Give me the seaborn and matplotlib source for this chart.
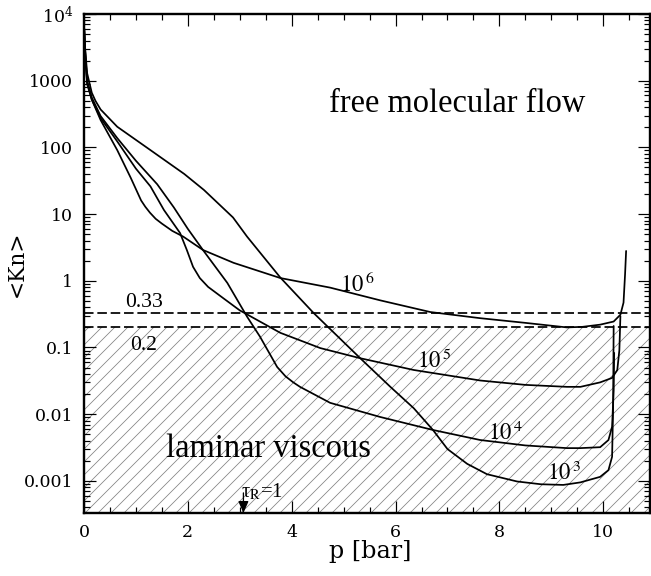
import matplotlib
matplotlib.use("Agg")
import numpy as np
import pandas as pd
import matplotlib.pyplot as plt
import seaborn as sns
from matplotlib.ticker import FixedLocator, MultipleLocator, LogLocator, NullFormatter

# ---------------- data ----------------
# pressure p [bar] and mean Knudsen number <Kn> for each curve
p_1e6 = [0, 0.02, 0.06, 0.15, 0.32, 0.64, 0.9, 1.1, 1.18, 1.27, 1.38, 1.5, 1.7, 1.91, 2.29,
         2.88, 3.78, 4.74, 5.7, 6.67, 7.63, 8.5, 9.3, 9.6, 9.94, 10.2, 10.33, 10.39, 10.42, 10.44]
kn_1e6 = [7000, 2500, 890, 520, 257, 91, 35, 16, 12.9, 10.5, 8.5, 7.2, 5.6, 4.6, 2.9,
          1.86, 1.10, 0.79, 0.51, 0.34, 0.275, 0.234, 0.20, 0.204, 0.22, 0.245, 0.31,
          0.47, 1.26, 2.8]

p_1e5 = [0, 0.02, 0.06, 0.15, 0.32, 0.64, 1.0, 1.28, 1.54, 1.85, 1.98, 2.1, 2.23, 2.39,
         2.68, 3.0, 3.78, 4.55, 5.32, 6.35, 7.63, 8.5, 9.3, 9.56, 9.94, 10.17, 10.27, 10.31, 10.33]
kn_1e5 = [7000, 2800, 950, 520, 275, 123, 48, 26, 11.5, 5.2, 2.9, 1.62, 1.10, 0.81,
          0.55, 0.36, 0.166, 0.098, 0.069, 0.046, 0.032, 0.0275, 0.0257, 0.0257, 0.030,
          0.035, 0.046, 0.091, 0.295]

p_1e4 = [0, 0.02, 0.06, 0.15, 0.32, 0.64, 1.0, 1.41, 1.73, 2.0, 2.29, 2.76, 3.14, 3.39,
         3.72, 3.88, 4.03, 4.16, 4.74, 5.7, 6.72, 7.63, 8.5, 9.3, 9.56, 9.94, 10.1, 10.17,
         10.2, 10.21]
kn_1e4 = [7000, 3000, 1000, 560, 295, 138, 63, 28, 12.6, 6.0, 2.9, 0.93, 0.29, 0.145,
          0.051, 0.037, 0.030, 0.0257, 0.0148, 0.0091, 0.0058, 0.0041, 0.0034, 0.0031,
          0.0031, 0.0032, 0.0041, 0.0065, 0.023, 0.083]

p_1e3 = [0, 0.02, 0.06, 0.15, 0.22, 0.32, 0.64, 1.28, 1.93, 2.31, 2.87, 3.14, 3.78, 4.42,
         5.32, 5.9, 6.35, 6.72, 7.0, 7.38, 7.76, 8.34, 8.8, 9.23, 9.56, 9.94, 10.1, 10.17,
         10.19, 10.2]
kn_1e3 = [7000, 3200, 1300, 660, 500, 370, 204, 91, 40, 23, 8.9, 4.6, 1.12, 0.33,
          0.069, 0.0257, 0.0123, 0.0058, 0.0030, 0.0018, 0.00126, 0.00098, 0.00089,
          0.00087, 0.00095, 0.00115, 0.00145, 0.0023, 0.0129, 0.21]

curve_names = ["1e6", "1e5", "1e4", "1e3"]
curve_labels = [r"$10^{\,6}$", r"$10^{\,5}$", r"$10^{\,4}$", r"$10^{\,3}$"]
label_pos_p = [4.93, 6.42, 7.78, 8.92]
label_pos_kn = [0.68, 0.049, 0.0041, 0.00102]

kn_levels = [0.33, 0.2]
kn_level_labels = ["0.33", "0.2"]
kn_level_text_p = [1.16, 1.14]
kn_level_text_kn = [0.41, 0.091]

ytick_vals = [1e-3, 1e-2, 1e-1, 1, 10, 100, 1000, 1e4]
ytick_labels = ["0.001", "0.01", "0.1", "1", "10", "100", "1000", r"$10^4$"]
xtick_vals = [0, 2, 4, 6, 8, 10]
xtick_labels = ["0", "2", "4", "6", "8", "10"]

tau_p = 3.07
x_lim = (0, 10.9)
y_lim = (3.3e-4, 1e4)

# ---------------- styling ----------------
sns.set_theme(style="ticks")
plt.rcParams["font.family"] = ["DejaVu Serif"]
plt.rcParams["text.color"] = "black"
plt.rcParams["axes.labelcolor"] = "black"
plt.rcParams["xtick.color"] = "black"
plt.rcParams["ytick.color"] = "black"
plt.rcParams["hatch.color"] = "0.5"
plt.rcParams["hatch.linewidth"] = 0.7
plt.rcParams["mathtext.fontset"] = "stix"

DPI = 78
fig = plt.figure(figsize=(651 / DPI, 576 / DPI), dpi=DPI)
fig.patch.set_facecolor("white")
ax = fig.add_axes([84 / 651, 63 / 576, 566 / 651, 499 / 576])
ax.set_facecolor("white")

frames = []
for name, p, kn in zip(curve_names,
                       [p_1e6, p_1e5, p_1e4, p_1e3],
                       [kn_1e6, kn_1e5, kn_1e4, kn_1e3]):
    frames.append(pd.DataFrame({"p": p, "kn": kn, "curve": name}))
df = pd.concat(frames, ignore_index=True)

ax.set_yscale("log")
ax.set_xlim(*x_lim)
ax.set_ylim(*y_lim)

# hatched laminar viscous region
ax.axhspan(y_lim[0], kn_levels[1], facecolor="none", edgecolor="0.5",
           hatch="//", linewidth=0, zorder=0)

sns.lineplot(data=df, x="p", y="kn", hue="curve", units="curve", estimator=None,
             sort=False, palette=["black"] * 4, linewidth=1.6, legend=False, ax=ax,
             zorder=3)

for lvl in kn_levels:
    ax.axhline(lvl, color="black", lw=1.6, ls=(0, (5.5, 2.2)), zorder=2)

# text annotations
serif = "Liberation Serif"
ax.text(7.19, 340, "free molecular flow", family=serif, fontsize=30,
        ha="center", va="baseline", color="black")
ax.text(3.55, 0.0023, "laminar viscous", family=serif, fontsize=30,
        ha="center", va="baseline", color="black")
for t, xp, yk in zip(kn_level_labels, kn_level_text_p, kn_level_text_kn):
    ax.text(xp, yk, t, family=serif, fontsize=20, ha="center", va="baseline",
            color="black")
for t, xp, yk in zip(curve_labels, label_pos_p, label_pos_kn):
    ax.text(xp, yk, t, fontsize=21, ha="left", va="baseline", math_fontfamily="stix",
            color="black")

ax.text(tau_p - 0.04, 10 ** -3.24, "τ$_{\\rm R}$=1", family=serif, fontsize=19,
        ha="left", va="baseline", math_fontfamily="stix", color="black")
ax.annotate("", xy=(tau_p, y_lim[0]), xytext=(tau_p, 10 ** -3.18),
            arrowprops=dict(arrowstyle="-|>,head_length=0.5,head_width=0.22",
                            lw=1.2, color="black", mutation_scale=18,
                            shrinkA=0, shrinkB=0))

# axes / ticks
ax.xaxis.set_major_locator(FixedLocator(xtick_vals))
ax.set_xticklabels(xtick_labels)
ax.xaxis.set_minor_locator(MultipleLocator(0.5))
ax.yaxis.set_major_locator(FixedLocator(ytick_vals))
ax.set_yticklabels(ytick_labels)
for lab in ax.get_yticklabels():
    lab.set_math_fontfamily("dejavuserif")
ax.yaxis.set_minor_locator(LogLocator(base=10, subs=np.arange(2, 10), numticks=20))
ax.yaxis.set_minor_formatter(NullFormatter())

ax.tick_params(which="both", direction="in", top=True, right=True,
               colors="black", width=1.1, labelsize=16, pad=10)
ax.tick_params(which="major", length=11)
ax.tick_params(which="minor", length=5.5)

for s in ax.spines.values():
    s.set_linewidth(2.2)
    s.set_color("black")
    s.set_visible(True)

ax.set_xlabel("p [bar]", fontsize=22, family="DejaVu Serif", color="black")
ax.set_ylabel("<Kn>", fontsize=20, family="DejaVu Serif", color="black")
ax.xaxis.set_label_coords(0.505, -0.054)
ax.yaxis.set_label_coords(-0.099, 0.5)
ax.grid(False)

fig.savefig("out.png", dpi=DPI, facecolor="white")
